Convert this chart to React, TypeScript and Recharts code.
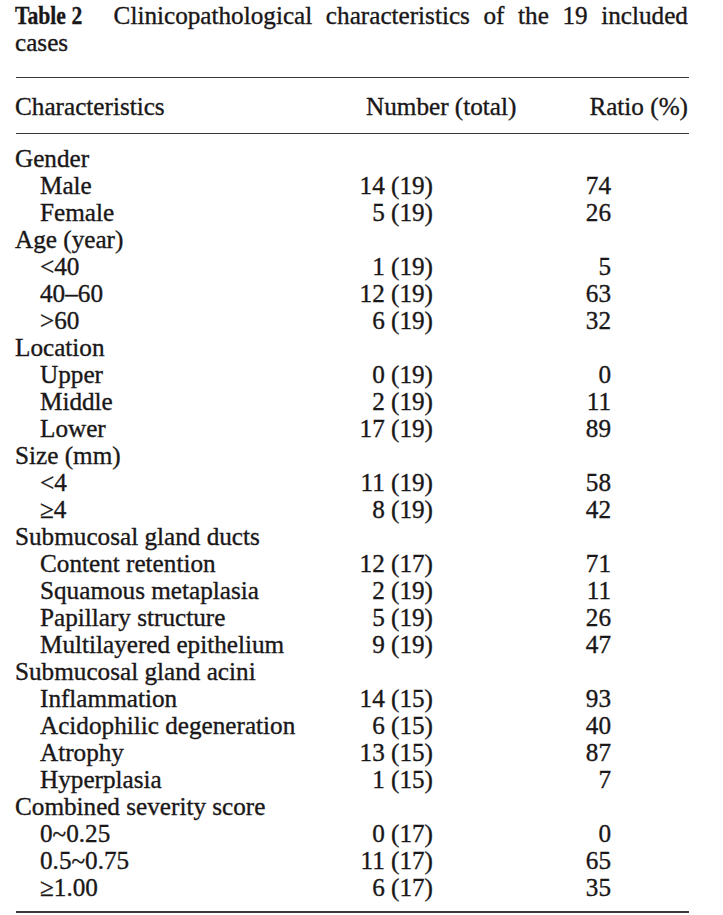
import React from 'react';
import { ComposedChart, Bar, XAxis, YAxis, LabelList } from 'recharts';

const characteristics: string[] = [
  'Gender', 'Male', 'Female',
  'Age (year)', '<40', '40–60', '>60',
  'Location', 'Upper', 'Middle', 'Lower',
  'Size (mm)', '<4', '≥4',
  'Submucosal gland ducts', 'Content retention', 'Squamous metaplasia', 'Papillary structure', 'Multilayered epithelium',
  'Submucosal gland acini', 'Inflammation', 'Acidophilic degeneration', 'Atrophy', 'Hyperplasia',
  'Combined severity score', '0~0.25', '0.5~0.75', '≥1.00',
];
const isGroup: boolean[] = [
  true, false, false,
  true, false, false, false,
  true, false, false, false,
  true, false, false,
  true, false, false, false, false,
  true, false, false, false, false,
  true, false, false, false,
];
const numbers: (string | null)[] = [
  null, '14 (19)', '5 (19)',
  null, '1 (19)', '12 (19)', '6 (19)',
  null, '0 (19)', '2 (19)', '17 (19)',
  null, '11 (19)', '8 (19)',
  null, '12 (17)', '2 (19)', '5 (19)', '9 (19)',
  null, '14 (15)', '6 (15)', '13 (15)', '1 (15)',
  null, '0 (17)', '11 (17)', '6 (17)',
];
const ratios: (number | null)[] = [
  null, 74, 26,
  null, 5, 63, 32,
  null, 0, 11, 89,
  null, 58, 42,
  null, 71, 11, 26, 47,
  null, 93, 40, 87, 7,
  null, 0, 65, 35,
];
const headers: string[] = ['Characteristics', 'Number (total)', 'Ratio (%)'];
const titleLabel = 'Table 2';
const titleText = 'Clinicopathological characteristics of the 19 included';
const titleText2 = 'cases';

const rows = characteristics.map((label, i) => ({
  label,
  group: isGroup[i],
  number: numbers[i],
  ratio: ratios[i],
}));

const FONT = '"Liberation Serif", "Times New Roman", serif';
const FS = 25.2;
const INK = '#1a1718';
const STROKE = 0.35;
const BASE = 8;
const NUM_RIGHT = 433;
const RATIO_RIGHT = 611;

const RowTick = (props: any) => {
  const { y, payload, index } = props;
  const i = payload && payload.index != null ? payload.index : index;
  const row = rows[i];
  if (!row) return null;
  return (
    <text
      x={row.group ? 15 : 40}
      y={y + BASE}
      textAnchor="start"
      fontFamily={FONT}
      fontSize={FS}
      fill={INK}
      stroke={INK}
      strokeWidth={STROKE}
    >
      {row.label}
    </text>
  );
};

const makeLabel = (right: number) => (props: any) => {
  const { viewBox, value } = props;
  if (value == null || !viewBox) return null;
  const cy = viewBox.y + viewBox.height / 2;
  return (
    <text
      x={right}
      y={cy + BASE}
      textAnchor="end"
      fontFamily={FONT}
      fontSize={FS}
      fill={INK}
      stroke={INK}
      strokeWidth={STROKE}
    >
      {value}
    </text>
  );
};

const rule = (top: number) => (
  <div
    style={{
      position: 'absolute',
      left: 16,
      width: 673,
      top,
      height: 1.6,
      background: '#3a3a3a',
    }}
  />
);

const textStyle: React.CSSProperties = {
  position: 'absolute',
  fontSize: FS,
  lineHeight: '27px',
  WebkitTextStroke: `${STROKE}px ${INK}`,
  whiteSpace: 'nowrap',
};

export default function App() {
  return (
    <div
      style={{
        position: 'absolute',
        left: 0,
        top: 0,
        width: 723,
        height: 915,
        background: '#fff',
        fontFamily: FONT,
        color: INK,
      }}
    >
      <div
        style={{
          ...textStyle,
          left: 15,
          top: 2,
          width: 673,
          display: 'flex',
          justifyContent: 'space-between',
        }}
      >
        <span style={{ display: 'inline-block', width: 85, overflow: 'visible' }}>
          <span
            style={{
              display: 'inline-block',
              fontWeight: 'bold',
              transform: 'scaleX(0.86)',
              transformOrigin: 'left center',
            }}
          >
            {titleLabel}
          </span>
        </span>
        {titleText.split(' ').map((w, k) => (
          <span key={k}>{w}</span>
        ))}
      </div>
      <div style={{ ...textStyle, left: 15, top: 29 }}>{titleText2}</div>
      {rule(76.5)}
      <div style={{ ...textStyle, left: 15, top: 93 }}>{headers[0]}</div>
      <div style={{ ...textStyle, left: 366, top: 93 }}>{headers[1]}</div>
      <div style={{ ...textStyle, right: 723 - 688, top: 93 }}>{headers[2]}</div>
      {rule(132.5)}
      <div style={{ position: 'absolute', left: 0, top: 0 }}>
        <ComposedChart
          layout="vertical"
          width={723}
          height={915}
          data={rows}
          margin={{ top: 145, bottom: 14, left: 0, right: 0 }}
        >
          <XAxis type="number" hide domain={[0, 100]} />
          <YAxis
            type="category"
            dataKey="label"
            width={360}
            interval={0}
            axisLine={false}
            tickLine={false}
            tick={<RowTick />}
          />
          <Bar dataKey="ratio" fill="none" minPointSize={1} isAnimationActive={false}>
            <LabelList dataKey="number" content={makeLabel(NUM_RIGHT)} />
            <LabelList dataKey="ratio" content={makeLabel(RATIO_RIGHT)} />
          </Bar>
        </ComposedChart>
      </div>
      {rule(911)}
    </div>
  );
}
